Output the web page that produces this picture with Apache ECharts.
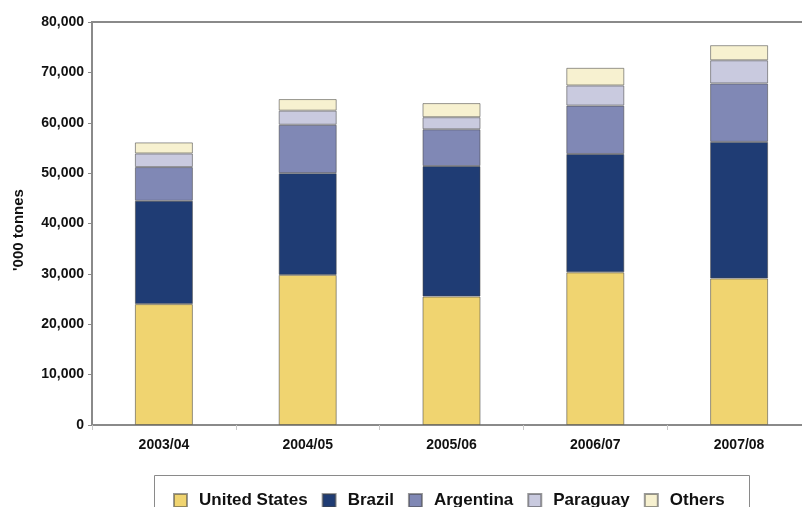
<!DOCTYPE html>
<html>
<head>
<meta charset="utf-8">
<script src="https://cdn.jsdelivr.net/npm/echarts@6/dist/echarts.min.js"></script>
<style>
  html, body { margin: 0; padding: 0; background: #fff; }
  #chart { width: 802px; height: 507px; }
</style>
</head>
<body>
<div id="chart"></div>
<script>
// Soybean production by country, '000 tonnes
const seasons = ['2003/04', '2004/05', '2005/06', '2006/07', '2007/08'];
const unitedStates = [24000, 29800, 25500, 30300, 29100];
const brazil       = [20500, 20200, 25900, 23500, 27100];
const argentina    = [6700, 9600, 7300, 9600, 11600];
const paraguay     = [2700, 2800, 2400, 4000, 4600];
const others       = [2200, 2300, 2800, 3500, 3000];
const yTicks = { min: 0, max: 80000, interval: 10000 };

const FONT = '"Liberation Sans", Arial, sans-serif';

const seriesDefs = [
  { name: 'United States', data: unitedStates, color: '#F0D470' },
  { name: 'Brazil',        data: brazil,       color: '#1F3C74' },
  { name: 'Argentina',     data: argentina,    color: '#8088B5' },
  { name: 'Paraguay',      data: paraguay,     color: '#C9CADF' },
  { name: 'Others',        data: others,       color: '#F7F1D0' }
];

const chart = echarts.init(document.getElementById('chart'), null, { renderer: 'canvas' });

chart.setOption({
  animation: false,
  backgroundColor: '#fff',
  grid: {
    left: 92, top: 22, width: 719, height: 403,
    outerBoundsMode: 'none',
    show: true, borderColor: '#8a8a8a', borderWidth: 2, backgroundColor: 'transparent'
  },
  legend: {
    left: 168, top: 487,
    itemWidth: 13, itemHeight: 13, itemGap: 14,
    icon: 'rect',
    textStyle: { fontFamily: FONT, fontWeight: 'bold', fontSize: 17, color: '#111', padding: [0, 0, 0, 7] },
    data: seriesDefs.map(s => s.name)
  },
  xAxis: {
    type: 'category',
    data: seasons,
    axisLine: { lineStyle: { color: '#8a8a8a', width: 2 } },
    axisTick: { show: true, length: 5, lineStyle: { color: '#c8c8c8' } },
    axisLabel: { fontFamily: FONT, fontWeight: 'bold', fontSize: 14, color: '#111', margin: 13 }
  },
  yAxis: {
    type: 'value',
    min: yTicks.min, max: yTicks.max, interval: yTicks.interval,
    axisLine: { show: true, lineStyle: { color: '#8a8a8a', width: 2 } },
    axisTick: { show: true, length: 4, lineStyle: { color: '#8a8a8a' } },
    splitLine: { show: false },
    axisLabel: {
      fontFamily: FONT, fontWeight: 'bold', fontSize: 14, color: '#111', margin: 8,
      formatter: v => v.toLocaleString('en-US')
    }
  },
  graphic: [
    {
      type: 'text', x: 19, y: 230, rotation: Math.PI / 2,
      style: {
        text: "'000 tonnes", fontFamily: FONT, fontWeight: 'bold', fontSize: 15,
        fill: '#111', textAlign: 'center', textVerticalAlign: 'middle'
      }
    },
    {
      type: 'rect', z: -1, silent: true,
      shape: { x: 154.5, y: 475.5, width: 595, height: 50 },
      style: { fill: 'none', stroke: '#8a8a8a', lineWidth: 1 }
    }
  ],
  series: seriesDefs.map(s => ({
    name: s.name,
    type: 'bar',
    stack: 'total',
    barWidth: 58,
    data: s.data,
    itemStyle: { color: s.color, borderColor: 'rgba(70,70,70,0.55)', borderWidth: 1 }
  }))
});
</script>
</body>
</html>
